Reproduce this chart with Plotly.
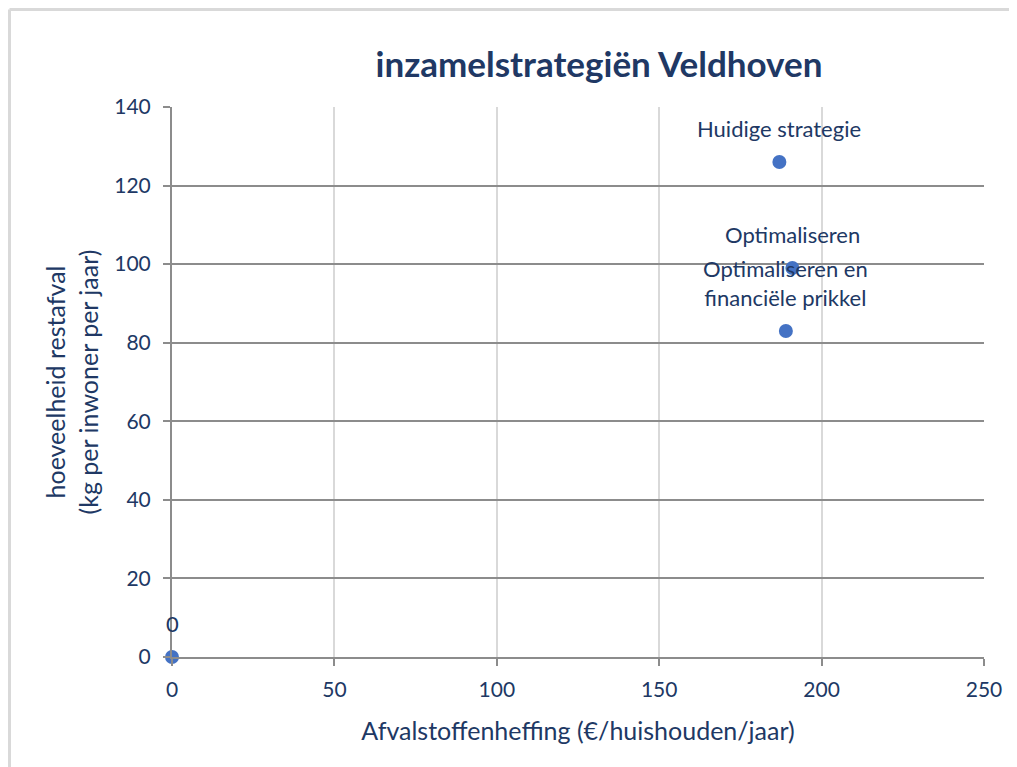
import plotly.graph_objects as go

# Data
labels = ["0", "Huidige strategie", "Optimaliseren", "Optimaliseren en<br>financiële prikkel"]
heffing = [0, 187, 191, 189]          # €/huishouden/jaar
restafval = [0, 126, 99, 83]          # kg per inwoner per jaar
x_ticks = [0, 50, 100, 150, 200, 250]
y_ticks = [0, 20, 40, 60, 80, 100, 120, 140]

TXT = "#203864"
FONT = "Lato"

fig = go.Figure()
fig.add_trace(go.Scatter(
    x=heffing, y=restafval, mode="markers",
    marker=dict(color="#4472C4", size=14),
    showlegend=False, cliponaxis=False,
))

for xv, yv, lab in zip(heffing, restafval, labels):
    fig.add_annotation(x=xv, y=yv, text=lab, showarrow=False,
                       xanchor="center", yanchor="bottom", yshift=18,
                       font=dict(family=FONT, size=22, color=TXT))

W, H = 1009, 759
L, R, T, B = 164, 33, 99, 110
PW, PH = W - L - R, H - T - B

fig.update_layout(
    width=W, height=H,
    paper_bgcolor="white", plot_bgcolor="white",
    margin=dict(l=L, r=R, t=T, b=B),
    title=dict(text="<b>inzamelstrategiën Veldhoven</b>", x=591 / W, xanchor="center",
               y=1 - 57 / H, yanchor="middle",
               font=dict(family=FONT, size=35, color=TXT)),
    font=dict(family=FONT, color=TXT),
)

fig.update_xaxes(
    range=[0, 250], tickvals=x_ticks, showgrid=True, gridcolor="#d9d9d9", gridwidth=1.5,
    zeroline=False, showline=True, linecolor="#8c8c8c", linewidth=2,
    ticks="outside", ticklen=7, tickcolor="#8c8c8c", tickwidth=2,
    ticklabelstandoff=6,
    tickfont=dict(family=FONT, size=21, color=TXT),
    title=dict(text="Afvalstoffenheffing (€/huishouden/jaar)", standoff=22,
               font=dict(family=FONT, size=25, color=TXT)),
)
fig.update_yaxes(
    range=[0, 140], tickvals=y_ticks, showgrid=True, gridcolor="#8c8c8c", gridwidth=2,
    zeroline=False, showline=True, linecolor="#8c8c8c", linewidth=2,
    ticks="outside", ticklen=7, tickcolor="#8c8c8c", tickwidth=2,
    ticklabelstandoff=8,
    tickfont=dict(family=FONT, size=21, color=TXT),
    title=dict(text="hoeveelheid restafval<br>(kg per inwoner per jaar)", standoff=9,
               font=dict(family=FONT, size=25, color=TXT)),
)

# chart frame (top and left edges visible)
fx = -(L - 1.5) / PW
fy = 1 + (T - 1.5) / PH
fig.add_shape(type="line", xref="paper", yref="paper",
              x0=fx, x1=1 + R / PW, y0=fy, y1=fy,
              line=dict(color="#d9d9d9", width=3))
fig.add_shape(type="line", xref="paper", yref="paper",
              x0=fx, x1=fx, y0=fy, y1=-B / PH,
              line=dict(color="#d9d9d9", width=3))

fig.write_html("out.html")
